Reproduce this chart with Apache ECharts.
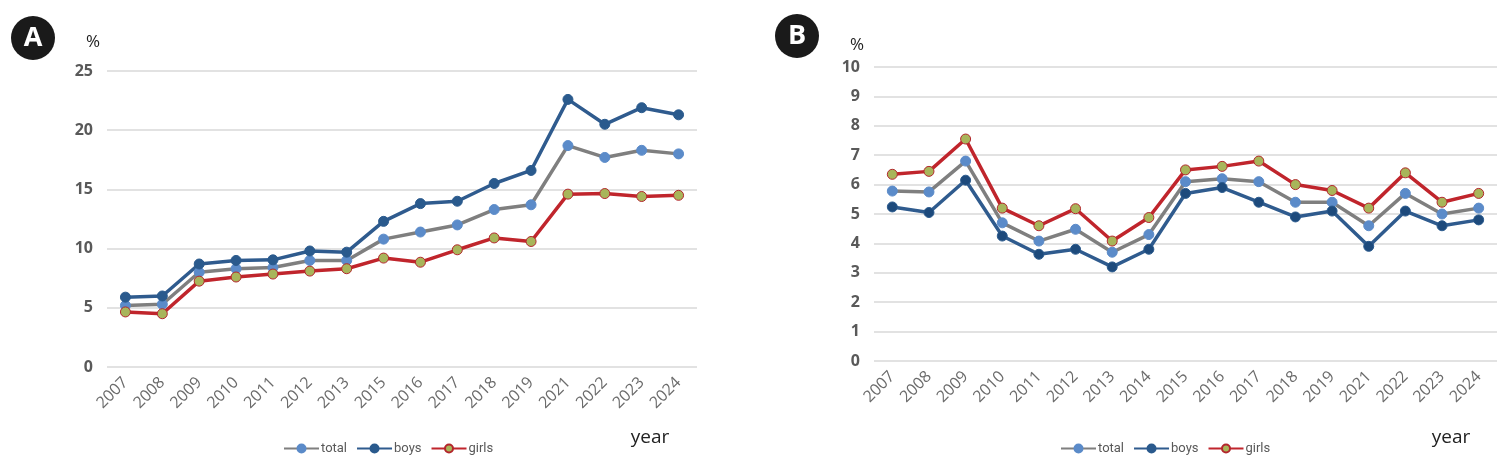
<!DOCTYPE html>
<html>
<head>
<meta charset="utf-8">
<script src="https://cdn.jsdelivr.net/npm/echarts@6/dist/echarts.min.js"></script>
<style>
  html, body { margin: 0; padding: 0; background: #fff; }
  #main { width: 1507px; height: 465px; }
</style>
</head>
<body>
<div id="main"></div>
<script>
// 面板A：年份（无2014、2020）
var yearsA = ['2007','2008','2009','2010','2011','2012','2013','2015','2016','2017','2018','2019','2021','2022','2023','2024'];
var totalA = [5.2, 5.3, 8.0, 8.3, 8.4, 9.0, 9.0, 10.8, 11.4, 12.0, 13.3, 13.7, 18.7, 17.7, 18.3, 18.0];
var boysA  = [5.9, 6.0, 8.7, 9.0, 9.05, 9.8, 9.7, 12.3, 13.8, 14.0, 15.5, 16.6, 22.6, 20.5, 21.9, 21.3];
var girlsA = [4.65, 4.5, 7.25, 7.6, 7.85, 8.1, 8.3, 9.2, 8.85, 9.9, 10.9, 10.6, 14.6, 14.65, 14.4, 14.5];

// 面板B：年份（无2020）
var yearsB = ['2007','2008','2009','2010','2011','2012','2013','2014','2015','2016','2017','2018','2019','2021','2022','2023','2024'];
var totalB = [5.78, 5.75, 6.8, 4.7, 4.08, 4.48, 3.7, 4.3, 6.1, 6.2, 6.1, 5.4, 5.4, 4.6, 5.7, 5.0, 5.2];
var boysB  = [5.24, 5.05, 6.15, 4.25, 3.63, 3.8, 3.2, 3.8, 5.7, 5.9, 5.4, 4.9, 5.1, 3.9, 5.1, 4.6, 4.8];
var girlsB = [6.35, 6.45, 7.55, 5.2, 4.6, 5.18, 4.08, 4.88, 6.5, 6.62, 6.8, 6.0, 5.8, 5.2, 6.4, 5.4, 5.7];

var ticksA = {min: 0, max: 25, interval: 5};
var ticksB = {min: 0, max: 10, interval: 1};

var myChart = echarts.init(document.getElementById('main'));

var labelColor = '#595959';
var gridColor = '#d9d9d9';

// 三条线的样式
var styles = {
    total: {line: '#7f7f7f', fill: '#5b8bc9', border: '#5b8bc9'},
    boys:  {line: '#2f5b8e', fill: '#2a5a8d', border: '#2a5a8d'},
    girls: {line: '#c0252c', fill: '#a8b55a', border: '#b3262c'}
};

function makeSeries(name, data, idx, fillOverride) {
    var s = styles[name];
    return {
        name: name,
        type: 'line',
        xAxisIndex: idx,
        yAxisIndex: idx,
        data: data,
        symbol: 'circle',
        symbolSize: 10,
        showAllSymbol: true,
        lineStyle: {color: s.line, width: 3.5},
        itemStyle: {color: fillOverride || s.fill, borderColor: s.border, borderWidth: 1},
        emphasis: {disabled: true},
        animation: false
    };
}

function makeX(years, idx) {
    return {
        type: 'category',
        gridIndex: idx,
        data: years,
        boundaryGap: true,
        axisLine: {show: false},
        axisTick: {show: false},
        axisLabel: {
            rotate: 45,
            color: '#6b6b6b',
            fontSize: 16,
            fontFamily: 'Open Sans',
            margin: 13,
            interval: 0
        }
    };
}

function makeY(t, idx) {
    return {
        type: 'value',
        gridIndex: idx,
        min: t.min,
        max: t.max,
        interval: t.interval,
        axisLine: {show: false},
        axisTick: {show: false},
        splitLine: {lineStyle: {color: gridColor, width: 1.5}},
        axisLabel: {
            color: labelColor,
            fontSize: 16,
            fontWeight: 'bold',
            fontFamily: 'Open Sans',
            margin: 14
        }
    };
}

function badge(cx, cy, letter) {
    return {
        type: 'group',
        children: [
            {type: 'circle', shape: {cx: cx, cy: cy, r: 22}, style: {fill: '#1a1a1a'}},
            {type: 'text', x: cx, y: cy, style: {text: letter, fill: '#fff', font: 'bold 27px "Open Sans"', align: 'center', verticalAlign: 'middle'}}
        ]
    };
}

function makeLegend(left) {
    return {
        left: left, top: 442,
        padding: 0,
        itemWidth: 35, itemHeight: 10, itemGap: 9,
        textStyle: {color: labelColor, fontSize: 13, fontFamily: 'Liberation Sans Narrow, Roboto', padding: [0, 0, 0, -3]},
        data: ['total', 'boys', 'girls']
    };
}

var myOption = {
    animation: false,
    grid: [
        {left: 107, top: 71, width: 590, height: 296, containLabel: false},
        {left: 874, top: 67, width: 623, height: 294, containLabel: false}
    ],
    xAxis: [makeX(yearsA, 0), makeX(yearsB, 1)],
    yAxis: [makeY(ticksA, 0), makeY(ticksB, 1)],
    legend: [makeLegend(283), makeLegend(1060)],
    graphic: [
        badge(33, 38, 'A'),
        badge(797, 36, 'B'),
        {type: 'text', x: 93, y: 42, style: {text: '%', fill: '#222', font: '17px "Open Sans"', align: 'center', verticalAlign: 'middle'}},
        {type: 'text', x: 857, y: 45, style: {text: '%', fill: '#222', font: '17px "Open Sans"', align: 'center', verticalAlign: 'middle'}},
        {type: 'text', x: 650, y: 438, style: {text: 'year', fill: '#222', font: '19px "Open Sans"', align: 'center', verticalAlign: 'middle'}},
        {type: 'text', x: 1451, y: 438, style: {text: 'year', fill: '#222', font: '19px "Open Sans"', align: 'center', verticalAlign: 'middle'}}
    ],
    series: [
        makeSeries('total', totalA, 0),
        makeSeries('boys', boysA, 0),
        makeSeries('girls', girlsA, 0),
        makeSeries('total', totalB, 1),
        makeSeries('boys', boysB, 1, '#1d4a7c'),
        makeSeries('girls', girlsB, 1)
    ]
};

myChart.setOption(myOption);
</script>
</body>
</html>
